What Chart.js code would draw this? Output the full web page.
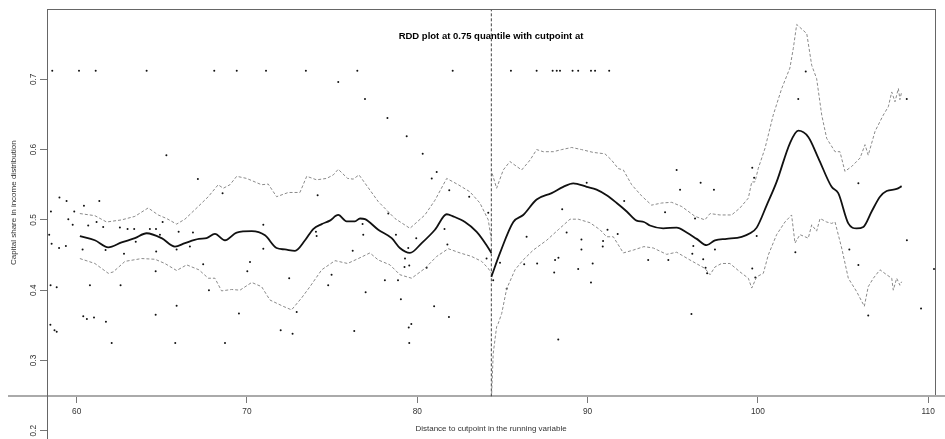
<!DOCTYPE html>
<html>
<head>
<meta charset="utf-8">
<title>RDD plot</title>
<script src="https://cdn.jsdelivr.net/npm/chart.js@4.4.1/dist/chart.umd.min.js"></script>
<style>
  html, body { margin: 0; padding: 0; background: #fff; }
  #wrap { position: relative; width: 945px; height: 439px; }
</style>
</head>
<body>
<div id="wrap"><canvas id="rdd"></canvas></div>
<script>
const titleText = 'RDD plot at 0.75 quantile with cutpoint at';
const xTitle = 'Distance to cutpoint in the running variable';
const yTitle = 'Capital share in income distribution';

const xTicks = [60, 70, 80, 90, 100, 110];
const yTicks = [0.2, 0.3, 0.4, 0.5, 0.6, 0.7];
const xRange = [58.26, 110.4];
const yRange = [0.1883, 0.8];
const xAxisAt = 0.249;   // R draws the x axis here, not at the bottom
const cutpoint = 84.35;

// fitted quantile curve, each side of the cutpoint
const fitLeft = [
  [60.19, 0.477], [61.07, 0.471], [61.86, 0.461], [62.64, 0.468], [63.42, 0.474],
  [64.11, 0.481], [64.99, 0.474], [65.77, 0.462], [66.36, 0.467], [67.18, 0.473],
  [67.63, 0.474], [68.12, 0.480], [68.71, 0.471], [69.40, 0.482], [70.28, 0.484],
  [71.06, 0.478], [71.74, 0.460], [72.23, 0.458], [72.82, 0.456], [73.41, 0.471],
  [73.89, 0.487], [74.39, 0.494], [74.87, 0.499], [75.36, 0.507], [75.85, 0.498],
  [76.34, 0.498], [76.64, 0.502], [76.93, 0.501], [77.71, 0.486], [78.50, 0.474],
  [78.98, 0.460], [79.57, 0.453], [80.26, 0.467], [81.04, 0.486], [81.73, 0.508],
  [82.11, 0.505], [82.80, 0.497], [83.49, 0.483], [84.07, 0.464], [84.35, 0.453]
];
const fitRight = [
  [84.35, 0.419], [84.86, 0.453], [85.64, 0.497], [86.22, 0.507], [87.01, 0.529],
  [87.89, 0.538], [88.57, 0.547], [89.16, 0.552], [89.95, 0.547], [90.53, 0.543],
  [91.12, 0.535], [91.71, 0.524], [92.30, 0.512], [92.88, 0.499], [93.31, 0.497],
  [93.66, 0.492], [94.44, 0.488], [95.23, 0.489], [95.82, 0.482], [96.41, 0.473],
  [96.99, 0.464], [97.48, 0.471], [98.17, 0.473], [99.05, 0.476], [99.54, 0.481],
  [99.93, 0.489], [100.52, 0.521], [101.10, 0.554], [101.88, 0.609], [102.37, 0.627],
  [102.96, 0.618], [103.55, 0.588], [104.33, 0.547], [104.72, 0.538], [105.31, 0.495],
  [105.80, 0.488], [106.19, 0.490], [106.68, 0.512], [107.17, 0.533], [107.56, 0.541],
  [108.15, 0.544], [108.44, 0.548]
];

// upper and lower bands
const upperLeft = [
  [60.19, 0.509], [61.07, 0.506], [61.76, 0.497], [62.64, 0.500], [63.42, 0.505],
  [64.20, 0.517], [64.79, 0.507], [65.28, 0.502], [65.87, 0.494], [66.36, 0.501],
  [67.18, 0.520], [67.73, 0.533], [68.31, 0.550], [68.61, 0.545], [69.00, 0.550],
  [69.40, 0.562], [69.98, 0.559], [70.86, 0.550], [71.25, 0.551], [71.74, 0.533],
  [72.43, 0.539], [73.11, 0.539], [73.51, 0.562], [74.09, 0.557], [74.68, 0.559],
  [75.07, 0.564], [75.36, 0.572], [75.91, 0.559], [76.24, 0.558], [76.58, 0.564],
  [77.71, 0.526], [78.69, 0.502], [79.57, 0.488], [80.45, 0.507], [81.04, 0.528],
  [81.73, 0.559], [82.41, 0.550], [83.09, 0.540], [83.68, 0.524], [84.17, 0.500],
  [84.35, 0.471]
];
const lowerLeft = [
  [60.19, 0.445], [61.07, 0.438], [61.86, 0.424], [62.15, 0.426], [62.84, 0.441],
  [63.82, 0.445], [64.60, 0.444], [65.18, 0.438], [65.87, 0.428], [66.46, 0.436],
  [67.18, 0.429], [67.73, 0.417], [68.12, 0.417], [68.51, 0.399], [69.10, 0.401],
  [69.59, 0.400], [70.28, 0.411], [70.86, 0.405], [71.35, 0.386], [72.13, 0.377],
  [72.62, 0.372], [73.21, 0.389], [73.70, 0.405], [74.39, 0.429], [75.17, 0.442],
  [75.91, 0.438], [76.54, 0.445], [77.22, 0.453], [77.71, 0.443], [78.40, 0.436],
  [78.98, 0.422], [79.67, 0.417], [80.45, 0.431], [81.14, 0.448], [81.82, 0.459],
  [82.51, 0.453], [83.19, 0.448], [83.78, 0.441], [84.17, 0.431], [84.35, 0.424]
];
const upperRight = [
  [84.40, 0.566], [84.66, 0.545], [85.05, 0.571], [85.44, 0.583], [86.13, 0.571],
  [86.62, 0.585], [87.01, 0.600], [87.40, 0.597], [87.99, 0.597], [88.48, 0.600],
  [89.07, 0.603], [89.65, 0.600], [90.33, 0.596], [91.02, 0.594], [91.41, 0.585],
  [91.80, 0.573], [92.10, 0.571], [92.59, 0.550], [93.18, 0.534], [93.76, 0.521],
  [94.35, 0.524], [94.94, 0.525], [95.53, 0.519], [96.31, 0.505], [96.89, 0.500],
  [97.19, 0.509], [97.77, 0.507], [98.46, 0.507], [98.95, 0.517], [99.44, 0.531],
  [99.64, 0.554], [99.83, 0.554], [100.02, 0.573], [100.42, 0.602], [100.90, 0.649],
  [101.40, 0.687], [101.88, 0.716], [102.08, 0.744], [102.28, 0.778], [102.87, 0.765],
  [103.16, 0.720], [103.45, 0.701], [103.75, 0.649], [104.04, 0.616], [104.53, 0.597],
  [104.82, 0.597], [105.11, 0.569], [105.51, 0.576], [106.00, 0.588], [106.29, 0.607],
  [106.48, 0.592], [106.88, 0.626], [107.36, 0.649], [107.66, 0.661], [107.86, 0.682],
  [108.05, 0.668], [108.25, 0.687], [108.34, 0.671], [108.44, 0.682]
];
const lowerRight = [
  [84.37, 0.253], [84.46, 0.310], [84.66, 0.348], [84.76, 0.353], [84.96, 0.367],
  [85.25, 0.402], [85.74, 0.429], [86.22, 0.443], [86.81, 0.457], [87.60, 0.471],
  [88.28, 0.486], [88.97, 0.501], [89.45, 0.501], [90.14, 0.496], [90.73, 0.486],
  [91.12, 0.476], [91.51, 0.476], [92.10, 0.453], [92.68, 0.457], [93.31, 0.462],
  [93.86, 0.460], [94.64, 0.451], [95.23, 0.454], [96.01, 0.443], [96.89, 0.431],
  [97.19, 0.422], [97.48, 0.433], [97.87, 0.438], [98.36, 0.438], [98.95, 0.426],
  [99.44, 0.417], [99.64, 0.403], [99.93, 0.419], [100.32, 0.424], [100.61, 0.450],
  [101.10, 0.479], [101.59, 0.497], [101.98, 0.507], [102.18, 0.467], [102.47, 0.479],
  [102.96, 0.474], [103.16, 0.493], [103.45, 0.484], [103.65, 0.502], [104.04, 0.497],
  [104.33, 0.495], [104.53, 0.497], [104.72, 0.479], [104.92, 0.460], [105.31, 0.417],
  [105.80, 0.398], [106.25, 0.377], [106.48, 0.405], [106.78, 0.417], [107.17, 0.429],
  [107.56, 0.422], [107.86, 0.417], [107.95, 0.400], [108.15, 0.417], [108.34, 0.407],
  [108.44, 0.412]
];

// observations
const observations = [
  [58.57, 0.712], [60.14, 0.712], [61.12, 0.712], [64.11, 0.712], [68.08, 0.712],
  [69.40, 0.712], [71.12, 0.712], [73.46, 0.712], [76.48, 0.712], [82.08, 0.712],
  [85.50, 0.712], [87.01, 0.712], [87.95, 0.712], [88.19, 0.712], [88.38, 0.712],
  [89.12, 0.712], [89.45, 0.712], [90.20, 0.712], [90.44, 0.712], [91.27, 0.712],
  [75.36, 0.696], [76.93, 0.672], [78.25, 0.645], [79.38, 0.619], [80.32, 0.594],
  [81.14, 0.568], [80.85, 0.559], [81.88, 0.542], [83.05, 0.533], [84.17, 0.510],
  [65.27, 0.592], [67.12, 0.558], [58.99, 0.532], [59.41, 0.527], [60.43, 0.520],
  [61.33, 0.527], [58.49, 0.512], [59.86, 0.512], [59.51, 0.501], [59.77, 0.493],
  [60.68, 0.492], [61.17, 0.497], [61.56, 0.490], [62.54, 0.489], [62.99, 0.487],
  [63.38, 0.487], [64.30, 0.487], [64.66, 0.487], [65.05, 0.497], [64.89, 0.479],
  [65.99, 0.483], [66.83, 0.482], [58.39, 0.479], [58.53, 0.466], [58.97, 0.460],
  [59.37, 0.463], [60.35, 0.458], [61.70, 0.457], [62.78, 0.452], [63.47, 0.469],
  [64.67, 0.455], [65.87, 0.458], [66.65, 0.462], [64.64, 0.427], [58.47, 0.407],
  [58.83, 0.404], [60.78, 0.407], [62.58, 0.407], [60.39, 0.363], [60.60, 0.359],
  [61.02, 0.361], [61.72, 0.355], [64.64, 0.365], [65.87, 0.378], [58.46, 0.351],
  [58.70, 0.343], [58.83, 0.341], [62.06, 0.325], [65.79, 0.325], [68.71, 0.325],
  [68.57, 0.538], [74.15, 0.535], [70.96, 0.493], [74.05, 0.483], [74.09, 0.477],
  [70.96, 0.459], [67.43, 0.437], [70.18, 0.440], [70.02, 0.427], [72.48, 0.417],
  [74.97, 0.422], [74.77, 0.407], [67.77, 0.400], [69.53, 0.367], [72.92, 0.369],
  [71.98, 0.343], [72.68, 0.338], [78.30, 0.509], [76.79, 0.494], [76.83, 0.479],
  [78.75, 0.479], [79.94, 0.474], [81.60, 0.487], [81.77, 0.465], [76.21, 0.456],
  [79.47, 0.460], [79.28, 0.445], [79.25, 0.433], [79.53, 0.435], [80.55, 0.432],
  [78.10, 0.414], [78.87, 0.414], [84.07, 0.445], [84.46, 0.414], [76.97, 0.397],
  [79.04, 0.387], [80.99, 0.377], [81.86, 0.362], [76.30, 0.342], [79.65, 0.352],
  [79.50, 0.347], [79.53, 0.325], [89.95, 0.553], [92.15, 0.527], [88.51, 0.515],
  [86.42, 0.476], [88.77, 0.482], [89.64, 0.472], [91.77, 0.480], [91.17, 0.486],
  [90.91, 0.470], [90.89, 0.462], [89.64, 0.458], [84.86, 0.439], [86.28, 0.437],
  [87.04, 0.438], [88.09, 0.443], [88.29, 0.446], [90.30, 0.438], [89.45, 0.430],
  [88.04, 0.425], [90.20, 0.411], [85.25, 0.402], [88.28, 0.330], [95.23, 0.571],
  [96.64, 0.553], [95.43, 0.543], [97.42, 0.543], [99.67, 0.574], [99.78, 0.560],
  [94.55, 0.511], [96.31, 0.502], [96.21, 0.463], [97.48, 0.458], [99.93, 0.477],
  [96.15, 0.452], [96.79, 0.444], [93.56, 0.443], [94.74, 0.443], [96.93, 0.432],
  [97.02, 0.424], [99.67, 0.431], [99.85, 0.418], [96.10, 0.366], [102.81, 0.711],
  [102.37, 0.672], [108.74, 0.672], [105.90, 0.552], [108.75, 0.471], [102.20, 0.454],
  [105.37, 0.458], [105.90, 0.436], [106.48, 0.364], [109.58, 0.374], [110.34, 0.430]
];

const toXY = arr => arr.map(p => ({x: p[0], y: p[1]}));

const lineStyle = {type: 'scatter', showLine: true, pointRadius: 0, fill: false};
const fitStyle = Object.assign({}, lineStyle, {borderColor: '#111', borderWidth: 1.8, cubicInterpolationMode: 'monotone'});
const bandStyle = Object.assign({}, lineStyle, {borderColor: '#8a8a8a', borderWidth: 1, borderDash: [3, 2]});

// box edges, axis line overhang and the y title (R centres it on the boxed region)
const frame = {
  id: 'frame',
  afterDraw(chart) {
    const {ctx, chartArea: a} = chart;
    const axisY = chart.scales.y.getPixelForValue(xAxisAt);
    ctx.save();
    ctx.strokeStyle = '#666';
    ctx.lineWidth = 1;
    ctx.beginPath();
    ctx.moveTo(a.left, Math.round(a.top) + 0.5);
    ctx.lineTo(a.right + 1, Math.round(a.top) + 0.5);
    ctx.moveTo(Math.round(a.right) + 0.5, a.top);
    ctx.lineTo(Math.round(a.right) + 0.5, axisY);
    ctx.stroke();
    ctx.strokeStyle = '#aaa';
    ctx.lineWidth = 2;
    ctx.beginPath();
    ctx.moveTo(8, Math.round(axisY));
    ctx.lineTo(a.left, Math.round(axisY));
    ctx.moveTo(a.right, Math.round(axisY));
    ctx.lineTo(chart.width, Math.round(axisY));
    ctx.stroke();
    ctx.translate(14, (a.top + axisY) / 2);
    ctx.rotate(-Math.PI / 2);
    ctx.fillStyle = '#333';
    ctx.font = '8px "Liberation Sans", Arial, sans-serif';
    ctx.textAlign = 'center';
    ctx.textBaseline = 'middle';
    ctx.fillText(yTitle, 0, 0);
    ctx.restore();
  }
};

Chart.defaults.font.family = '"Liberation Sans", Arial, sans-serif';
Chart.defaults.color = '#333';

new Chart(document.getElementById('rdd'), {
  type: 'scatter',
  data: {
    datasets: [
      Object.assign({label: 'fit left', data: toXY(fitLeft)}, fitStyle),
      Object.assign({label: 'fit right', data: toXY(fitRight)}, fitStyle),
      Object.assign({label: 'upper left', data: toXY(upperLeft)}, bandStyle),
      Object.assign({label: 'lower left', data: toXY(lowerLeft)}, bandStyle),
      Object.assign({label: 'upper right', data: toXY(upperRight)}, bandStyle),
      Object.assign({label: 'lower right', data: toXY(lowerRight)}, bandStyle),
      Object.assign({label: 'cutpoint', data: toXY([[cutpoint, xAxisAt], [cutpoint, yRange[1]]])},
        lineStyle, {borderColor: '#444', borderWidth: 1, borderDash: [3, 2]}),
      {
        label: 'observations',
        data: toXY(observations),
        pointRadius: 1,
        pointBorderWidth: 0,
        backgroundColor: '#111'
      }
    ]
  },
  options: {
    responsive: true,
    maintainAspectRatio: false,
    animation: false,
    events: [],
    layout: {autoPadding: false, padding: {left: 0, right: 10, top: 0, bottom: 0}},
    plugins: {
      legend: {display: false},
      tooltip: {enabled: false},
      title: {
        display: true,
        text: titleText,
        fullSize: false,
        color: '#000',
        font: {size: 9.5, weight: 'bold'},
        padding: {top: 31, bottom: -33.4}
      }
    },
    scales: {
      x: {
        type: 'linear',
        position: {y: xAxisAt},
        min: xRange[0],
        max: xRange[1],
        afterBuildTicks: s => { s.ticks = xTicks.map(v => ({value: v})); },
        afterFit: s => { s.paddingLeft = 0; s.paddingRight = 0; },
        ticks: {autoSkip: false, maxRotation: 0, padding: 4, font: {size: 8.3}, callback: v => String(v)},
        grid: {drawOnChartArea: false, drawTicks: true, tickLength: 6, color: '#777'},
        border: {display: true, color: '#aaa', width: 2},
        title: {display: true, text: xTitle, font: {size: 8}, padding: {top: 4, bottom: 0}}
      },
      y: {
        type: 'linear',
        position: 'left',
        min: yRange[0],
        max: yRange[1],
        afterBuildTicks: s => { s.ticks = yTicks.map(v => ({value: v})); },
        afterFit: s => { s.width = 47; s.paddingTop = 0; s.paddingBottom = 0; },
        ticks: {
          autoSkip: false, minRotation: 90, maxRotation: 90, crossAlign: 'center',
          padding: 1, font: {size: 8.3}, callback: v => v.toFixed(1)
        },
        grid: {drawOnChartArea: false, drawTicks: true, tickLength: 7, color: '#777'},
        border: {display: true, color: '#666', width: 1}
      }
    }
  },
  plugins: [frame]
});
</script>
</body>
</html>
